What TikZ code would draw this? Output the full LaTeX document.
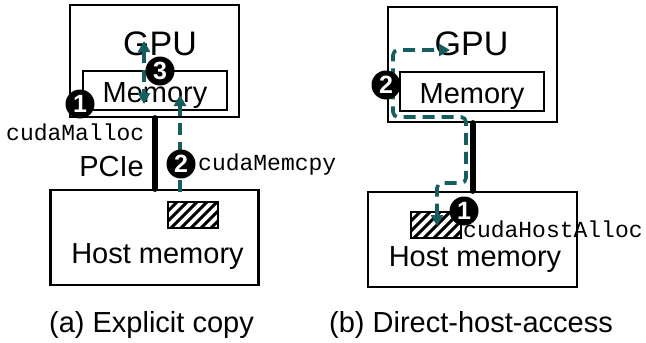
\documentclass[tikz,border=0pt]{standalone}
\usepackage{fontspec}
\setmainfont{Liberation Sans}
\setmonofont{Liberation Mono}
\usetikzlibrary{arrows.meta}
\definecolor{flow}{RGB}{22,94,94}

\tikzset{
  box/.style={draw=black, line width=2.2pt, inner sep=0pt},
  bus/.style={line width=6pt, line cap=round},
  flowline/.style={draw=flow, line width=3.6pt, dash pattern=on 12pt off 7pt},
  fwd/.style={-{Triangle[length=11pt,width=12pt]}},
  both/.style={{Triangle[length=11pt,width=12pt]}-{Triangle[length=11pt,width=12pt]}},
  badge/.style={circle, fill=black, text=white, minimum size=29pt, inner sep=0pt,
    font=\fontsize{25}{25}\bfseries\selectfont},
  lbl/.style={inner sep=0pt, anchor=base, font=\fontsize{29}{32}\selectfont},
  biglbl/.style={inner sep=0pt, anchor=base, font=\fontsize{34}{38}\selectfont},
  code/.style={inner sep=0pt, anchor=base west, font=\fontsize{23}{26}\ttfamily\selectfont},
  hatchbox/.style={box, line width=2pt},
}

\begin{document}
\begin{tikzpicture}[x=1pt,y=-1pt]
\useasboundingbox (0,0) rectangle (646,343);

% ---------- (a) explicit copy ----------
\node[box, minimum width=169pt, minimum height=112pt] (gpuA) at (154.5,61) {};
\node[box, minimum width=144pt, minimum height=39pt] (memA) at (155,90.5) {};
\node[box, minimum width=208pt, minimum height=95pt] (hostA) at (154.5,237.5) {};
\node[hatchbox, minimum width=50pt, minimum height=26pt] (bufA) at (193,215) {};
\begin{scope}
  \clip (168,202) rectangle (218,228);
  \foreach \i in {0,...,8}
    \draw[line width=3pt] (168+\i*10-28,229) -- ++(32,-32);
\end{scope}
\node[hatchbox, minimum width=50pt, minimum height=26pt] at (bufA) {};

\draw[bus] (gpuA.south) -- (hostA.north);

\node[biglbl] (gpuAt) at (160,55) {GPU};
\node[lbl] (memAt) at (155,102) {Memory};
\node[lbl] (hostAt) at (157.5,263) {Host memory};
\node[lbl] (pcieA) at (111.5,176) {PCIe};

\coordinate (devTop) at (144,41);
\coordinate (devBot) at (144,104);
\coordinate (cpySrc) at (180,192);
\coordinate (cpyDst) at (180,95);
\draw[flowline, both] (devTop) -- (devBot);
\draw[flowline, fwd] (cpySrc) -- (cpyDst);

\node[badge] (oneA) at (80,104) {1};
\node[badge] (threeA) at (160,71) {3};
\node[badge] (twoA) at (181,164) {2};

\node[code] (mallocA) at (6,140) {cudaMalloc};
\node[code] (memcpyA) at (198,170) {cudaMemcpy};

\node[lbl] (capA) at (151.5,332) {(a) Explicit copy};

% ---------- (b) direct host access ----------
\node[box, minimum width=169pt, minimum height=115pt] (gpuB) at (472.5,64.5) {};
\node[box, minimum width=144pt, minimum height=39pt] (memB) at (472,91.5) {};
\node[box, minimum width=209pt, minimum height=95pt] (hostB) at (472.5,239.5) {};
\node[hatchbox, minimum width=50pt, minimum height=26pt] (bufB) at (436,225) {};
\begin{scope}
  \clip (411,212) rectangle (461,238);
  \foreach \i in {0,...,8}
    \draw[line width=3pt] (411+\i*10-28,239) -- ++(32,-32);
\end{scope}
\node[hatchbox, minimum width=50pt, minimum height=26pt] at (bufB) {};

\draw[bus] (gpuB.south) -- (hostB.north);

\node[biglbl] (gpuBt) at (471.5,55) {GPU};
\node[lbl] (memBt) at (472,103) {Memory};
\node[lbl] (hostBt) at (475,266) {Host memory};

\coordinate (accEnd) at (437,226);
\coordinate (accStart) at (450,50);
\draw[flowline, both, rounded corners=5pt]
  (accEnd) -- (437,183) -- (466,183) -- (466,117) -- (393,117) -- (393,50) -- (accStart);

\node[badge] (twoB) at (386,85) {2};
\node[badge] (oneB) at (464,211) {1};

\node[code] (hostallocB) at (463,237) {cudaHostAlloc};

\node[lbl] (capB) at (471,332) {(b) Direct-host-access};
\end{tikzpicture}
\end{document}
